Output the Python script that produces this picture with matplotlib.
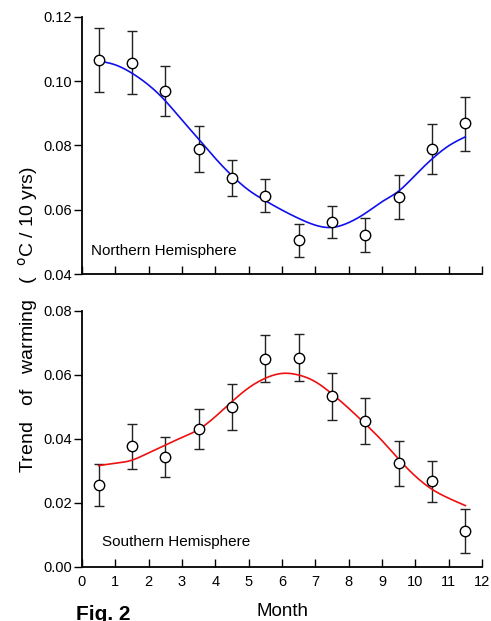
import numpy as np
import matplotlib
matplotlib.use("Agg")
import matplotlib.pyplot as plt

plt.rcParams['font.family'] = ['Liberation Sans', 'DejaVu Sans']

# ---- data ----
months = [0.5, 1.5, 2.5, 3.5, 4.5, 5.5, 6.5, 7.5, 8.5, 9.5, 10.5, 11.5]

nh_vals = [0.1066, 0.1058, 0.0971, 0.0790, 0.0700, 0.0644, 0.0505, 0.0563, 0.0520, 0.0640, 0.0790, 0.0869]
nh_hi = [0.1165, 0.1155, 0.1049, 0.0861, 0.0755, 0.0696, 0.0557, 0.0613, 0.0573, 0.0708, 0.0866, 0.0952]
nh_lo = [0.0968, 0.0959, 0.0893, 0.0718, 0.0643, 0.0592, 0.0453, 0.0511, 0.0467, 0.0570, 0.0712, 0.0783]

sh_vals = [0.0256, 0.0377, 0.0343, 0.0431, 0.0500, 0.0650, 0.0652, 0.0532, 0.0455, 0.0323, 0.0267, 0.0113]
sh_hi = [0.0322, 0.0447, 0.0405, 0.0494, 0.0570, 0.0723, 0.0726, 0.0606, 0.0528, 0.0392, 0.0330, 0.0181]
sh_lo = [0.0189, 0.0306, 0.0279, 0.0367, 0.0428, 0.0578, 0.0580, 0.0458, 0.0382, 0.0252, 0.0202, 0.0043]

# fitted curves, read at half-month steps
curve_x = [0.5, 1.0, 1.5, 2.0, 2.5, 3.0, 3.5, 4.0, 4.5, 5.0, 5.5, 6.0,
           6.5, 7.0, 7.5, 8.0, 8.5, 9.0, 9.5, 10.0, 10.5, 11.0, 11.5]
nh_curve = [0.1063, 0.1051, 0.1025, 0.0988, 0.0939, 0.0879, 0.0820, 0.0760, 0.0706, 0.0661, 0.0628, 0.0599,
            0.0573, 0.0552, 0.0545, 0.0560, 0.0589, 0.0625, 0.0658, 0.0708, 0.0758, 0.0799, 0.0827]
sh_curve = [0.0316, 0.0323, 0.0333, 0.0356, 0.0380, 0.0404, 0.0429, 0.0469, 0.0516, 0.0559, 0.0589, 0.0604,
            0.0599, 0.0578, 0.0540, 0.0495, 0.0446, 0.0394, 0.0336, 0.0283, 0.0242, 0.0214, 0.0191]

x_ticks = list(range(0, 13))
nh_yticks = [0.04, 0.06, 0.08, 0.10, 0.12]
sh_yticks = [0.00, 0.02, 0.04, 0.06, 0.08]


def smooth(xs, ys, n=400):
    """Natural cubic spline through the read curve points (display smoothing)."""
    x = np.asarray(xs, float)
    y = np.asarray(ys, float)
    m = len(x)
    h = np.diff(x)
    A = np.zeros((m, m))
    r = np.zeros(m)
    A[0, 0] = A[-1, -1] = 1.0
    for i in range(1, m - 1):
        A[i, i - 1] = h[i - 1]
        A[i, i] = 2 * (h[i - 1] + h[i])
        A[i, i + 1] = h[i]
        r[i] = 6 * ((y[i + 1] - y[i]) / h[i] - (y[i] - y[i - 1]) / h[i - 1])
    M = np.linalg.solve(A, r)
    xx = np.linspace(x[0], x[-1], n)
    idx = np.clip(np.searchsorted(x, xx) - 1, 0, m - 2)
    x0, x1 = x[idx], x[idx + 1]
    hh = x1 - x0
    a = (x1 - xx) / hh
    b = (xx - x0) / hh
    yy = a * y[idx] + b * y[idx + 1] + ((a ** 3 - a) * M[idx] + (b ** 3 - b) * M[idx + 1]) * hh ** 2 / 6
    return xx, yy


fig = plt.figure(figsize=(4.91, 6.21), dpi=100)
ax1 = fig.add_axes([82 / 491, 1 - 274 / 621, 400 / 491, 257 / 621])
ax2 = fig.add_axes([82 / 491, 1 - 566.7 / 621, 400 / 491, 256 / 621])


def style(ax, yticks, ylim, labels_x):
    ax.set_xlim(0, 12)
    ax.set_ylim(*ylim)
    ax.set_xticks(x_ticks)
    ax.set_yticks(yticks)
    ax.set_yticklabels([f"{v:.2f}" for v in yticks])
    for s in ['top', 'right']:
        ax.spines[s].set_visible(False)
    for s in ['left', 'bottom']:
        ax.spines[s].set_linewidth(1.3)
        ax.spines[s].set_color('black')
    ax.tick_params(axis='x', direction='in', length=6, width=1.0, pad=6,
                   labelsize=10.5, labelbottom=labels_x)
    ax.tick_params(axis='y', direction='out', length=6, width=1.0, pad=1, labelsize=10.5)
    ax.set_facecolor('none')


def panel(ax, vals, hi, lo, cx, cy, color):
    v = np.array(vals)
    yerr = np.vstack([v - np.array(lo), np.array(hi) - v])
    ax.errorbar(months, vals, yerr=yerr, fmt='none', ecolor='#222222',
                elinewidth=1.0, capsize=3.5, capthick=1.0, zorder=2)
    xx, yy = smooth(cx, cy)
    ax.plot(xx, yy, color=color, lw=1.2, zorder=3)
    ax.plot(months, vals, 'o', ms=7.5, mfc='white', mec='black', mew=1.0, zorder=4)


panel(ax1, nh_vals, nh_hi, nh_lo, curve_x, nh_curve, '#1010ee')
panel(ax2, sh_vals, sh_hi, sh_lo, curve_x, sh_curve, '#ee1010')

style(ax1, nh_yticks, (0.04, 0.12), False)
style(ax2, sh_yticks, (0.00, 0.08), True)

ax1.text(0.022, 0.074, 'Northern Hemisphere', transform=ax1.transAxes,
         fontsize=11, va='baseline', ha='left')
ax2.text(0.051, 0.081, 'Southern Hemisphere', transform=ax2.transAxes,
         fontsize=11, va='baseline', ha='left')

fig.text(28 / 491, 1 - 320 / 621, 'Trend   of   warming   (  $^{\\mathrm{o}}$C / 10 yrs)',
         rotation=90, ha='center', va='center', fontsize=14)
fig.text(282 / 491, 1 - 616 / 621, 'Month', ha='center', va='baseline', fontsize=13.5)
fig.text(76 / 491, 1 - 605 / 621, 'Fig. 2', ha='left', va='top', fontsize=15, fontweight='bold')

fig.savefig('out.png', dpi=100)
